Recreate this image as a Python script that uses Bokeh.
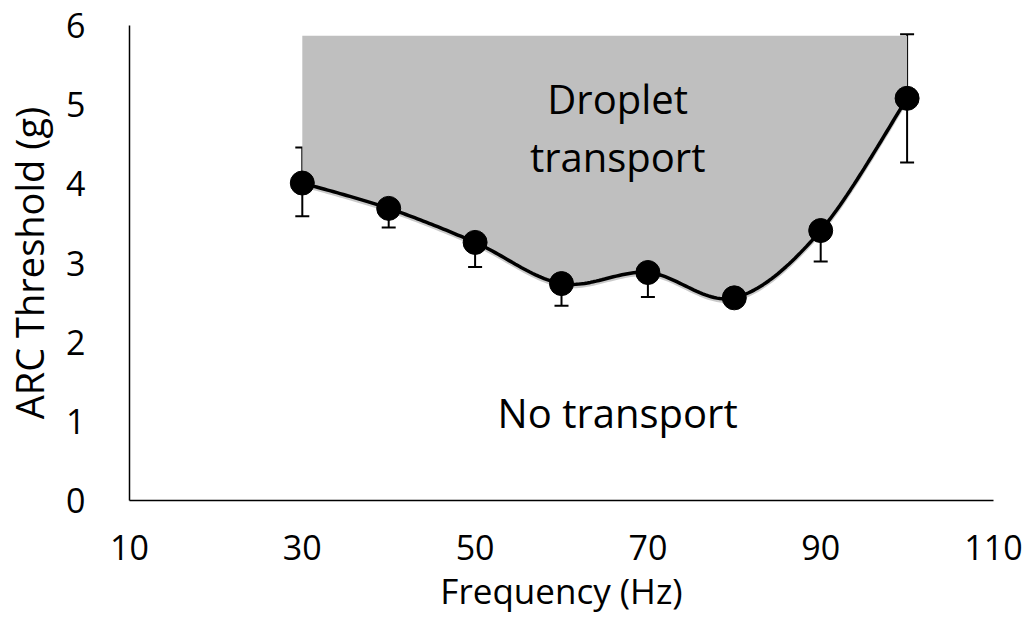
import numpy as np
from bokeh.plotting import figure
from bokeh.models import Range1d, FixedTicker, Whisker, ColumnDataSource, TeeHead, Label
from bokeh.embed import file_html
from bokeh.resources import INLINE

freq = [30, 40, 50, 60, 70, 80, 90, 100]
threshold = [4.01, 3.69, 3.26, 2.74, 2.88, 2.56, 3.41, 5.08]
err_upper = [4.46, 3.93, 3.61, 3.06, 3.22, 2.60, 3.80, 5.89]
err_lower = [3.59, 3.45, 2.95, 2.46, 2.57, 2.52, 3.02, 4.27]
region_top = 5.87
x_ticks = [10, 30, 50, 70, 90, 110]
y_ticks = [0, 1, 2, 3, 4, 5, 6]

FONT = "Open Sans"


def smooth(xs, ys, n=30, tension=0.5):
    xs = np.asarray(xs, float)
    ys = np.asarray(ys, float)
    px = np.concatenate([[xs[0]], xs, [xs[-1]]])
    py = np.concatenate([[ys[0]], ys, [ys[-1]]])
    ox, oy = [], []
    for i in range(1, len(px) - 2):
        p0x, p1x, p2x, p3x = px[i - 1], px[i], px[i + 1], px[i + 2]
        p0y, p1y, p2y, p3y = py[i - 1], py[i], py[i + 1], py[i + 2]
        c1x = p1x + (p2x - p0x) * tension / 3
        c1y = p1y + (p2y - p0y) * tension / 3
        c2x = p2x - (p3x - p1x) * tension / 3
        c2y = p2y - (p3y - p1y) * tension / 3
        t = np.linspace(0, 1, n, endpoint=(i == len(px) - 3))
        bx = (1 - t) ** 3 * p1x + 3 * (1 - t) ** 2 * t * c1x + 3 * (1 - t) * t ** 2 * c2x + t ** 3 * p2x
        by = (1 - t) ** 3 * p1y + 3 * (1 - t) ** 2 * t * c1y + 3 * (1 - t) * t ** 2 * c2y + t ** 3 * p2y
        ox.extend(bx)
        oy.extend(by)
    return np.array(ox), np.array(oy)


sx, sy = smooth(freq, threshold, tension=0.5)

p = figure(width=1027, height=619, output_backend="svg", toolbar_location=None,
           x_range=Range1d(10, 110), y_range=Range1d(0, 6),
           min_border_left=128, min_border_right=34, min_border_top=25, min_border_bottom=119)
p.outline_line_color = None
p.xgrid.grid_line_color = None
p.ygrid.grid_line_color = None
p.background_fill_color = "white"

p.varea(x=sx, y1=sy, y2=region_top, fill_color="#bfbfbf")
p.line(sx, sy - 0.03, line_color="#a6a6a6", line_width=3, line_alpha=0.6)
p.line(sx, sy, line_color="black", line_width=3.5)

src = ColumnDataSource(dict(x=freq, y=threshold, upper=err_upper, lower=err_lower))
w = Whisker(source=src, base="x", upper="upper", lower="lower",
            line_color="black", line_width=2,
            upper_head=TeeHead(size=14, line_color="black", line_width=2),
            lower_head=TeeHead(size=14, line_color="black", line_width=2))
p.add_layout(w)
p.scatter("x", "y", source=src, size=24, fill_color="black", line_color="black")

for txt, xv, yv in [("Droplet", 66.5, 5.08), ("transport", 66.5, 4.35), ("No transport", 66.5, 1.11)]:
    p.add_layout(Label(x=xv, y=yv, text=txt, text_align="center", text_baseline="middle",
                       text_font=FONT, text_font_size="40px", text_color="black"))

for ax in (p.xaxis[0], p.yaxis[0]):
    ax.major_tick_line_color = None
    ax.minor_tick_line_color = None
    ax.axis_line_color = "black"
    ax.axis_line_width = 1.5
    ax.major_label_text_font = FONT
    ax.major_label_text_font_size = "34px"
    ax.major_label_text_color = "black"
    ax.axis_label_text_font = FONT
    ax.axis_label_text_font_size = "35px"
    ax.axis_label_text_font_style = "normal"
    ax.axis_label_text_color = "black"

p.yaxis.axis_label_text_font_size = "38px"
p.xaxis.ticker = FixedTicker(ticks=x_ticks)
p.yaxis.ticker = FixedTicker(ticks=y_ticks)
p.xaxis.axis_label = "Frequency (Hz)"
p.yaxis.axis_label = "ARC Threshold (g)"
p.xaxis.major_label_standoff = 28
p.yaxis.major_label_standoff = 38
p.xaxis.axis_label_standoff = 4
p.yaxis.axis_label_standoff = 8

open("out.html", "w").write(file_html(p, INLINE))
